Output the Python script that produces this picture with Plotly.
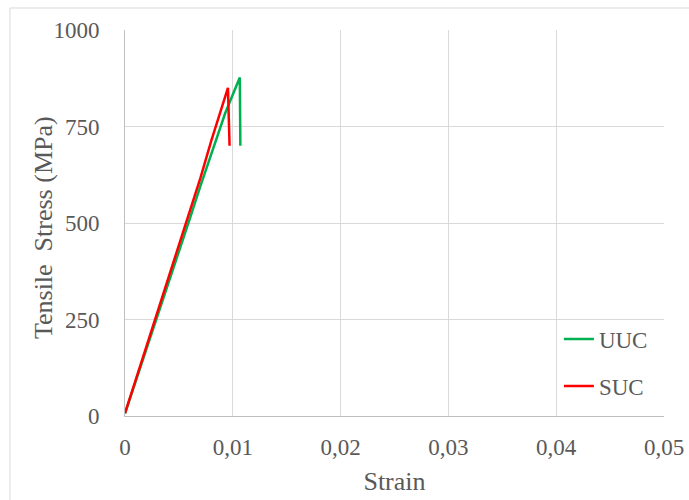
import plotly.graph_objects as go

# Tensile stress–strain curves for the two laminate types
uuc_strain = [0, 0.0010, 0.0020, 0.0030, 0.0040, 0.0050, 0.0060, 0.0070, 0.0080, 0.0090, 0.0093, 0.01065, 0.0107]
uuc_stress = [7, 90, 172, 255, 340, 425, 510, 596, 680, 762, 785, 877, 700]

suc_strain = [0, 0.0010, 0.0020, 0.0030, 0.0040, 0.0050, 0.0060, 0.0070, 0.0080, 0.0090, 0.00955, 0.0097]
suc_stress = [7, 94, 180, 267, 355, 442, 530, 617, 713, 802, 850, 700]

x_ticks = [0, 0.01, 0.02, 0.03, 0.04, 0.05]
x_tick_labels = ["0", "0,01", "0,02", "0,03", "0,04", "0,05"]
y_ticks = [0, 250, 500, 750, 1000]

FONT = "Liberation Serif"
TEXT = "#595959"
GRID = "#d9d9d9"

fig = go.Figure()
fig.add_trace(go.Scatter(x=uuc_strain, y=uuc_stress, mode="lines", name="UUC",
                         line=dict(color="#00b050", width=2.5), legendgroup="a"))
fig.add_trace(go.Scatter(x=suc_strain, y=suc_stress, mode="lines", name="SUC",
                         line=dict(color="#ff0000", width=2.5), legendgroup="b"))

fig.update_layout(
    width=689, height=500,
    margin=dict(l=125, r=25, t=30, b=84),
    paper_bgcolor="white", plot_bgcolor="white",
    font=dict(family=FONT, size=23, color=TEXT),
    legend=dict(x=0.805, y=0.255, xanchor="left", yanchor="top",
                bgcolor="rgba(0,0,0,0)", font=dict(family=FONT, size=23, color=TEXT),
                tracegroupgap=14, traceorder="grouped"),
    shapes=[dict(type="rect", xref="paper", yref="paper",
                 x0=-0.2134, y0=-0.3, x1=1.2, y1=1.057,
                 line=dict(color=GRID, width=1), layer="below")],
    annotations=[dict(text="Tensile  Stress (MPa)", textangle=-90,
                      xref="paper", yref="paper", x=-0.152, y=0.487,
                      xanchor="center", yanchor="middle", showarrow=False,
                      font=dict(family=FONT, size=26, color=TEXT))],
)

fig.update_xaxes(
    range=[0, 0.05], tickvals=x_ticks, ticktext=x_tick_labels,
    showgrid=True, gridcolor=GRID, gridwidth=1,
    showline=True, linecolor="#bfbfbf", linewidth=1,
    zeroline=False, ticks="", ticklabelstandoff=10, automargin=False,
    tickfont=dict(family=FONT, size=23, color=TEXT),
    title=dict(text="Strain", font=dict(family=FONT, size=26, color=TEXT), standoff=13),
)
fig.update_yaxes(
    range=[0, 1000], tickvals=y_ticks,
    showgrid=True, gridcolor=GRID, gridwidth=1,
    showline=True, linecolor="#bfbfbf", linewidth=1,
    zeroline=False, ticks="", ticklabelstandoff=20, automargin=False,
    tickfont=dict(family=FONT, size=23, color=TEXT),
)

fig.write_html("out.html")
